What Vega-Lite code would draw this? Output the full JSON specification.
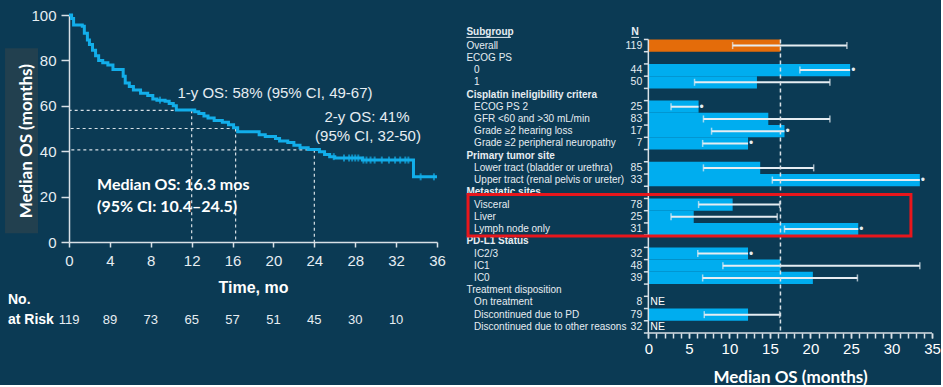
{
  "$schema": "https://vega.github.io/schema/vega-lite/v6.json",
  "background": "#0b3a54",
  "padding": {"left": 5, "top": 8, "right": 0, "bottom": 0},
  "bounds": "flush",
  "spacing": 29,
  "config": {
    "view": {"stroke": null},
    "axis": {
      "grid": false,
      "labelOverlap": false,
      "labelFlush": false,
      "domainColor": "#d8e0e6",
      "domainWidth": 1.5,
      "tickColor": "#d8e0e6",
      "tickWidth": 1.5,
      "labelColor": "#e6edf2",
      "titleColor": "#ffffff",
      "labelFont": "Liberation Sans, Arial, sans-serif",
      "titleFont": "Liberation Sans, Arial, sans-serif"
    },
    "text": {"font": "Liberation Sans, Arial, sans-serif", "color": "#e6edf2"}
  },
  "datasets": {
    "km": [
      {"t": 0, "s": 100}, {"t": 0.25, "s": 98.5}, {"t": 0.45, "s": 95.6}, {"t": 1.3, "s": 95},
      {"t": 1.5, "s": 92}, {"t": 1.8, "s": 89}, {"t": 2.0, "s": 87}, {"t": 2.3, "s": 84.5},
      {"t": 2.6, "s": 82}, {"t": 2.9, "s": 80}, {"t": 3.3, "s": 79}, {"t": 3.8, "s": 78},
      {"t": 4.3, "s": 76}, {"t": 5.3, "s": 73}, {"t": 5.5, "s": 70}, {"t": 5.9, "s": 68.5},
      {"t": 6.3, "s": 67}, {"t": 7.0, "s": 65.5}, {"t": 7.7, "s": 64.5}, {"t": 8.2, "s": 63},
      {"t": 8.6, "s": 62.5}, {"t": 9.4, "s": 62}, {"t": 9.8, "s": 61}, {"t": 10.2, "s": 60},
      {"t": 10.5, "s": 58.2}, {"t": 12.3, "s": 57.4}, {"t": 12.7, "s": 56.6}, {"t": 13.2, "s": 55.5},
      {"t": 13.6, "s": 54.6}, {"t": 14.2, "s": 53.5}, {"t": 15.0, "s": 52.7}, {"t": 15.6, "s": 51.7},
      {"t": 16.1, "s": 50.3}, {"t": 16.5, "s": 48.6}, {"t": 18.6, "s": 47.2}, {"t": 19.2, "s": 46.5},
      {"t": 20.2, "s": 45.6}, {"t": 20.6, "s": 44.5}, {"t": 21.4, "s": 43.8}, {"t": 22.0, "s": 42.6},
      {"t": 22.6, "s": 41.5}, {"t": 23.4, "s": 40.8}, {"t": 24.5, "s": 39.8}, {"t": 25.0, "s": 38.5},
      {"t": 25.5, "s": 37.6}, {"t": 26.0, "s": 37.0}, {"t": 28.7, "s": 36.1}, {"t": 33.7, "s": 28.7},
      {"t": 36.0, "s": 28.7}
    ],
    "censored": [
      {"t": 8.9, "s": 62.5}, {"t": 25.9, "s": 37.6}, {"t": 26.9, "s": 37.0}, {"t": 27.4, "s": 37.0},
      {"t": 27.7, "s": 37.0}, {"t": 28.0, "s": 37.0}, {"t": 28.3, "s": 37.0}, {"t": 28.8, "s": 36.1},
      {"t": 29.1, "s": 36.1}, {"t": 29.5, "s": 36.1}, {"t": 29.9, "s": 36.1}, {"t": 30.6, "s": 36.1},
      {"t": 31.3, "s": 36.1}, {"t": 31.9, "s": 36.1}, {"t": 32.4, "s": 36.1}, {"t": 32.9, "s": 36.1},
      {"t": 33.2, "s": 36.1}, {"t": 34.4, "s": 28.7}, {"t": 35.7, "s": 28.7}
    ],
    "landmarks": [
      {"t": 12, "s": 58},
      {"t": 16.3, "s": 50},
      {"t": 24, "s": 40.6}
    ],
    "risk": [
      {"t": 0, "n": 119}, {"t": 4, "n": 89}, {"t": 8, "n": 73}, {"t": 12, "n": 65}, {"t": 16, "n": 57},
      {"t": 20, "n": 51}, {"t": 24, "n": 45}, {"t": 28, "n": 30}, {"t": 32, "n": 10}
    ],
    "subgroups": [
      {"label": "Overall", "level": "top", "n": "119", "med": 16.3, "lo": 10.4, "hi": 24.5},
      {"label": "ECOG PS", "level": "group", "n": null, "med": null, "lo": null, "hi": null},
      {"label": "0", "level": "item", "n": "44", "med": 24.9, "lo": 18.7, "hi": null},
      {"label": "1", "level": "item", "n": "50", "med": 13.4, "lo": 5.7, "hi": 22.4},
      {"label": "Cisplatin ineligibility critera", "level": "section", "n": null, "med": null, "lo": null, "hi": null},
      {"label": "ECOG PS 2", "level": "item", "n": "25", "med": 6.2, "lo": 2.8, "hi": null},
      {"label": "GFR <60 and >30 mL/min", "level": "item", "n": "83", "med": 14.8, "lo": 6.8, "hi": 22.4},
      {"label": "Grade ≥2 hearing loss", "level": "item", "n": "17", "med": 16.8, "lo": 7.8, "hi": null},
      {"label": "Grade ≥2 peripheral neuropathy", "level": "item", "n": "7", "med": 12.3, "lo": 6.7, "hi": null},
      {"label": "Primary tumor site", "level": "section", "n": null, "med": null, "lo": null, "hi": null},
      {"label": "Lower tract (bladder or urethra)", "level": "item", "n": "85", "med": 13.8, "lo": 6.8, "hi": 20.4},
      {"label": "Upper tract (renal pelvis or ureter)", "level": "item", "n": "33", "med": 33.5, "lo": 15.3, "hi": null},
      {"label": "Metastatic sites", "level": "section", "n": null, "med": null, "lo": null, "hi": null},
      {"label": "Visceral", "level": "item", "n": "78", "med": 10.4, "lo": 6.2, "hi": 16.2},
      {"label": "Liver", "level": "item", "n": "25", "med": 5.6, "lo": 2.8, "hi": 15.9},
      {"label": "Lymph node only", "level": "item", "n": "31", "med": 25.9, "lo": 16.8, "hi": null},
      {"label": "PD-L1 Status", "level": "section", "n": null, "med": null, "lo": null, "hi": null},
      {"label": "IC2/3", "level": "item", "n": "32", "med": 12.3, "lo": 6.1, "hi": null},
      {"label": "IC1", "level": "item", "n": "48", "med": 16.3, "lo": 9.2, "hi": 33.5},
      {"label": "IC0", "level": "item", "n": "39", "med": 20.3, "lo": 6.7, "hi": 25.8},
      {"label": "Treatment disposition", "level": "group", "n": null, "med": null, "lo": null, "hi": null},
      {"label": "On treatment", "level": "item", "n": "8", "med": null, "lo": null, "hi": null},
      {"label": "Discontinued due to PD", "level": "item", "n": "79", "med": 12.3, "lo": 6.9, "hi": 16.2},
      {"label": "Discontinued due to other reasons", "level": "item", "n": "32", "med": null, "lo": null, "hi": null}
    ]
  },
  "hconcat": [
    {
      "width": 368,
      "height": 227,
      "layer": [
        {
          "data": {"values": [{}]},
          "mark": {"type": "rect", "color": "#22404f"},
          "encoding": {
            "x": {"datum": -6.26, "type": "quantitative", "scale": {"domain": [0, 36], "nice": false},
                  "axis": {"values": [0, 4, 8, 12, 16, 20, 24, 28, 32, 36], "tickSize": 5, "labelFontSize": 15,
                           "labelPadding": 6, "title": "Time, mo", "titleFontSize": 16,
                           "titleFontWeight": "bold", "titlePadding": 11}},
            "x2": {"datum": -3.03},
            "y": {"datum": 85.4, "type": "quantitative", "scale": {"domain": [0, 100], "nice": false},
                  "axis": {"values": [0, 20, 40, 60, 80, 100], "tickSize": 8, "labelFontSize": 15,
                           "labelPadding": 5, "title": null}},
            "y2": {"datum": 3.8}
          }
        },
        {
          "data": {"values": [{}]},
          "mark": {"type": "text", "angle": 270, "font": "Lato", "fontWeight": "bold", "fontSize": 17,
                   "color": "#ffffff", "align": "center", "baseline": "middle"},
          "encoding": {
            "x": {"datum": -4.1, "type": "quantitative"},
            "y": {"datum": 44.4, "type": "quantitative"},
            "text": {"value": "Median OS (months)"}
          }
        },
        {
          "data": {"name": "landmarks"},
          "mark": {"type": "rule", "color": "#d8e0e6", "strokeDash": [3, 3], "strokeWidth": 1.2},
          "encoding": {
            "x": {"field": "t", "type": "quantitative"},
            "x2": {"datum": 0},
            "y": {"field": "s", "type": "quantitative"}
          }
        },
        {
          "data": {"name": "landmarks"},
          "mark": {"type": "rule", "color": "#d8e0e6", "strokeDash": [3, 3], "strokeWidth": 1.2},
          "encoding": {
            "x": {"field": "t", "type": "quantitative"},
            "y": {"field": "s", "type": "quantitative"},
            "y2": {"datum": 0}
          }
        },
        {
          "data": {"name": "km"},
          "mark": {"type": "line", "interpolate": "step-after", "color": "#12aeea", "strokeWidth": 3},
          "encoding": {
            "x": {"field": "t", "type": "quantitative"},
            "y": {"field": "s", "type": "quantitative"}
          }
        },
        {
          "data": {"name": "censored"},
          "mark": {"type": "tick", "orient": "vertical", "color": "#12aeea", "size": 7, "thickness": 2},
          "encoding": {
            "x": {"field": "t", "type": "quantitative"},
            "y": {"field": "s", "type": "quantitative"}
          }
        },
        {
          "data": {"values": [{}]},
          "mark": {"type": "text", "fontSize": 15, "align": "center", "baseline": "middle"},
          "encoding": {
            "x": {"datum": 20.15, "type": "quantitative"},
            "y": {"datum": 65.6, "type": "quantitative"},
            "text": {"value": "1-y OS: 58% (95% CI, 49-67)"}
          }
        },
        {
          "data": {"values": [{}]},
          "mark": {"type": "text", "fontSize": 15, "align": "center", "baseline": "middle"},
          "encoding": {
            "x": {"datum": 29.15, "type": "quantitative"},
            "y": {"datum": 55.0, "type": "quantitative"},
            "text": {"value": "2-y OS: 41%"}
          }
        },
        {
          "data": {"values": [{}]},
          "mark": {"type": "text", "fontSize": 15, "align": "center", "baseline": "middle"},
          "encoding": {
            "x": {"datum": 29.25, "type": "quantitative"},
            "y": {"datum": 46.6, "type": "quantitative"},
            "text": {"value": "(95% CI, 32-50)"}
          }
        },
        {
          "data": {"values": [{}]},
          "mark": {"type": "text", "font": "Lato", "fontWeight": "bold", "fontSize": 16, "color": "#ffffff",
                   "align": "left", "baseline": "middle"},
          "encoding": {
            "x": {"datum": 2.74, "type": "quantitative"},
            "y": {"datum": 25.0, "type": "quantitative"},
            "text": {"value": "Median OS: 16.3 mos"}
          }
        },
        {
          "data": {"values": [{}]},
          "mark": {"type": "text", "font": "Lato", "fontWeight": "bold", "fontSize": 16, "color": "#ffffff",
                   "align": "left", "baseline": "middle"},
          "encoding": {
            "x": {"datum": 2.74, "type": "quantitative"},
            "y": {"datum": 15.3, "type": "quantitative"},
            "text": {"value": "(95% CI: 10.4–24.5)"}
          }
        },
        {
          "data": {"name": "risk"},
          "mark": {"type": "text", "fontSize": 13, "align": "center", "baseline": "middle"},
          "encoding": {
            "x": {"field": "t", "type": "quantitative"},
            "y": {"datum": -34.5, "type": "quantitative"},
            "text": {"field": "n"}
          }
        },
        {
          "data": {"values": [{}]},
          "mark": {"type": "text", "fontSize": 14, "fontWeight": "bold", "color": "#ffffff", "align": "left", "baseline": "middle"},
          "encoding": {
            "x": {"datum": -5.97, "type": "quantitative"},
            "y": {"datum": -25.7, "type": "quantitative"},
            "text": {"value": "No."}
          }
        },
        {
          "data": {"values": [{}]},
          "mark": {"type": "text", "fontSize": 14, "fontWeight": "bold", "color": "#ffffff", "align": "left", "baseline": "middle"},
          "encoding": {
            "x": {"datum": -5.97, "type": "quantitative"},
            "y": {"datum": -34.5, "type": "quantitative"},
            "text": {"value": "at Risk"}
          }
        }
      ]
    },
    {
      "width": 466,
      "height": 318,
      "data": {"name": "subgroups"},
      "resolve": {"axis": {"x": "independent"}},
      "layer": [
        {
          "transform": [{"filter": "datum.med != null"}],
          "mark": {"type": "bar"},
          "encoding": {
            "x": {"field": "med", "type": "quantitative", "scale": {"domain": [-22.5, 35], "nice": false, "zero": false},
                  "axis": {"orient": "bottom", "values": [0, 5, 10, 15, 20, 25, 30, 35], "domain": false,
                           "tickSize": 5, "labelFontSize": 15, "labelPadding": 3, "labelColor": "#ffffff",
                           "title": "Median OS (months)", "titleFont": "Lato", "titleFontSize": 17,
                           "titleFontWeight": "bold", "titlePadding": 13, "titleX": 324}},
            "y": {"field": "label", "type": "nominal", "axis": null,
                  "scale": {"domain": ["Overall", "ECOG PS", "0", "1", "Cisplatin ineligibility critera", "ECOG PS 2",
                                       "GFR <60 and >30 mL/min", "Grade ≥2 hearing loss", "Grade ≥2 peripheral neuropathy",
                                       "Primary tumor site", "Lower tract (bladder or urethra)", "Upper tract (renal pelvis or ureter)",
                                       "Metastatic sites", "Visceral", "Liver", "Lymph node only", "PD-L1 Status", "IC2/3", "IC1", "IC0",
                                       "Treatment disposition", "On treatment", "Discontinued due to PD", "Discontinued due to other reasons"],
                            "paddingInner": 0, "paddingOuter": 1.25, "align": 1}},
            "color": {"condition": {"test": "datum.label === 'Overall'", "value": "#e46c0a"}, "value": "#00adef"}
          }
        },
        {
          "transform": [{"filter": "datum.hi != null"}],
          "mark": {"type": "rule", "color": "#e6edf2", "strokeWidth": 2},
          "encoding": {
            "x": {"field": "lo", "type": "quantitative",
                  "axis": {"orient": "bottom", "values": [0,1,2,3,4,5,6,7,8,9,10,11,12,13,14,15,16,17,18,19,20,21,22,23,24,25,26,27,28,29,30,31,32,33,34,35],
                           "labels": false, "domain": false, "tickSize": 5, "title": null}},
            "x2": {"field": "hi"},
            "y": {"field": "label", "type": "nominal"}
          }
        },
        {
          "transform": [{"filter": "datum.med != null && datum.hi == null"}],
          "mark": {"type": "rule", "color": "#e6edf2", "strokeWidth": 2},
          "encoding": {
            "x": {"field": "lo", "type": "quantitative", "axis": null},
            "x2": {"field": "med"},
            "y": {"field": "label", "type": "nominal"}
          }
        },
        {
          "transform": [{"filter": "datum.lo != null"}],
          "mark": {"type": "tick", "orient": "vertical", "color": "#e6edf2", "size": 7, "thickness": 1.5},
          "encoding": {
            "x": {"field": "lo", "type": "quantitative", "axis": null},
            "y": {"field": "label", "type": "nominal"}
          }
        },
        {
          "transform": [{"filter": "datum.hi != null"}],
          "mark": {"type": "tick", "orient": "vertical", "color": "#e6edf2", "size": 7, "thickness": 1.5},
          "encoding": {
            "x": {"field": "hi", "type": "quantitative", "axis": null},
            "y": {"field": "label", "type": "nominal"}
          }
        },
        {
          "transform": [{"filter": "datum.med != null && datum.hi == null"}],
          "mark": {"type": "text", "align": "left", "baseline": "middle", "dx": 1, "fontSize": 12, "color": "#e6edf2"},
          "encoding": {
            "x": {"field": "med", "type": "quantitative", "axis": null},
            "y": {"field": "label", "type": "nominal"},
            "text": {"value": "•"}
          }
        },
        {
          "transform": [{"filter": "datum.n != null && datum.med == null"}],
          "mark": {"type": "text", "align": "left", "baseline": "middle", "dx": 2, "fontSize": 10.5, "color": "#ffffff"},
          "encoding": {
            "x": {"datum": 0, "type": "quantitative", "axis": null},
            "y": {"field": "label", "type": "nominal"},
            "text": {"value": "NE"}
          }
        },
        {
          "data": {"values": [{}]},
          "mark": {"type": "rule", "color": "#d8e0e6", "strokeDash": [4, 3], "strokeWidth": 1.5},
          "encoding": {
            "x": {"datum": 16.3, "type": "quantitative", "axis": null},
            "y": {"datum": "Overall", "type": "nominal", "bandPosition": 0},
            "y2": {"datum": "Discontinued due to other reasons", "bandPosition": 1}
          }
        },
        {
          "data": {"values": [{}]},
          "mark": {"type": "rule", "color": "#d8e0e6", "strokeWidth": 1.5},
          "encoding": {
            "x": {"datum": 0, "type": "quantitative", "axis": null},
            "y": {"datum": "Overall", "type": "nominal", "bandPosition": 0},
            "y2": {"datum": "Discontinued due to other reasons", "bandPosition": 1}
          }
        },
        {
          "mark": {"type": "rule", "color": "#d8e0e6", "strokeWidth": 1.5},
          "encoding": {
            "x": {"datum": -0.55, "type": "quantitative", "axis": null},
            "x2": {"datum": 0},
            "y": {"field": "label", "type": "nominal", "bandPosition": 0}
          }
        },
        {
          "data": {"values": [{}]},
          "mark": {"type": "rule", "color": "#d8e0e6", "strokeWidth": 1.5},
          "encoding": {
            "x": {"datum": -0.55, "type": "quantitative", "axis": null},
            "x2": {"datum": 35},
            "y": {"datum": "Discontinued due to other reasons", "type": "nominal", "bandPosition": 1}
          }
        },
        {
          "transform": [{"filter": "datum.level === 'top' || datum.level === 'group'"}],
          "mark": {"type": "text", "align": "left", "baseline": "middle", "fontSize": 10},
          "encoding": {
            "x": {"datum": -22.45, "type": "quantitative", "axis": null},
            "y": {"field": "label", "type": "nominal"},
            "text": {"field": "label"}
          }
        },
        {
          "transform": [{"filter": "datum.level === 'section'"}],
          "mark": {"type": "text", "align": "left", "baseline": "middle", "fontSize": 10, "fontWeight": "bold"},
          "encoding": {
            "x": {"datum": -22.45, "type": "quantitative", "axis": null},
            "y": {"field": "label", "type": "nominal"},
            "text": {"field": "label"}
          }
        },
        {
          "transform": [{"filter": "datum.level === 'item'"}],
          "mark": {"type": "text", "align": "left", "baseline": "middle", "fontSize": 10},
          "encoding": {
            "x": {"datum": -21.5, "type": "quantitative", "axis": null},
            "y": {"field": "label", "type": "nominal"},
            "text": {"field": "label"}
          }
        },
        {
          "transform": [{"filter": "datum.n != null"}],
          "mark": {"type": "text", "align": "right", "baseline": "middle", "fontSize": 10.5},
          "encoding": {
            "x": {"datum": -0.75, "type": "quantitative", "axis": null},
            "y": {"field": "label", "type": "nominal"},
            "text": {"field": "n"}
          }
        },
        {
          "data": {"values": [{}]},
          "mark": {"type": "text", "align": "left", "baseline": "alphabetic", "fontSize": 10, "fontWeight": "bold"},
          "encoding": {
            "x": {"datum": -22.45, "type": "quantitative", "axis": null},
            "y": {"datum": "Overall", "type": "nominal", "bandPosition": -0.33},
            "text": {"value": "Subgroup"}
          }
        },
        {
          "data": {"values": [{}]},
          "mark": {"type": "text", "align": "center", "baseline": "alphabetic", "fontSize": 10.5, "fontWeight": "bold"},
          "encoding": {
            "x": {"datum": -1.65, "type": "quantitative", "axis": null},
            "y": {"datum": "Overall", "type": "nominal", "bandPosition": -0.33},
            "text": {"value": "N"}
          }
        },
        {
          "data": {"values": [{}]},
          "mark": {"type": "rule", "color": "#e6edf2", "strokeWidth": 1},
          "encoding": {
            "x": {"datum": -22.45, "type": "quantitative", "axis": null},
            "x2": {"datum": -16.95},
            "y": {"datum": "Overall", "type": "nominal", "bandPosition": -0.17}
          }
        },
        {
          "data": {"values": [{}]},
          "mark": {"type": "rule", "color": "#e6edf2", "strokeWidth": 1},
          "encoding": {
            "x": {"datum": -2.1, "type": "quantitative", "axis": null},
            "x2": {"datum": -1.15},
            "y": {"datum": "Overall", "type": "nominal", "bandPosition": -0.17}
          }
        },
        {
          "data": {"values": [{}]},
          "mark": {"type": "rect", "fill": null, "fillOpacity": 0, "stroke": "#e8161c", "strokeWidth": 3},
          "encoding": {
            "x": {"datum": -22.25, "type": "quantitative", "axis": null},
            "x2": {"datum": 32.4},
            "y": {"datum": "Metastatic sites", "type": "nominal", "bandPosition": 0.67},
            "y2": {"datum": "PD-L1 Status", "bandPosition": 0.06}
          }
        }
      ]
    }
  ]
}
